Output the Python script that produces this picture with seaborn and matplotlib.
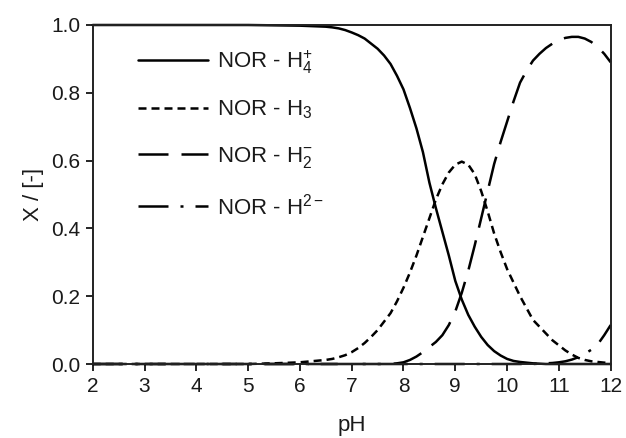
import numpy as np
import pandas as pd
import seaborn as sns
import matplotlib
matplotlib.use("Agg")
import matplotlib.pyplot as plt
from matplotlib.lines import Line2D

# ---- data ----
ph = [2.0, 2.5, 3.0, 3.5, 4.0, 4.5, 5.0, 5.5, 6.0,
      6.5, 6.625, 6.75, 6.875, 7.0, 7.125, 7.25, 7.375, 7.5, 7.625,
      7.75, 7.875, 8.0, 8.125, 8.25, 8.375, 8.5, 8.625, 8.75, 8.875,
      9.0, 9.125, 9.25, 9.375, 9.5, 9.625, 9.75, 9.875, 10.0, 10.125,
      10.25, 10.375, 10.5, 10.625, 10.75, 10.875, 11.0, 11.125, 11.25, 11.375,
      11.5, 11.625, 11.75, 11.875, 12.0]

h4 = [1.0, 1.0, 1.0, 1.0, 1.0, 1.0, 1.0, 0.999, 0.998,
      0.995, 0.993, 0.99, 0.985, 0.978, 0.97, 0.96, 0.945, 0.93, 0.91,
      0.885, 0.85, 0.81, 0.755, 0.695, 0.625, 0.535, 0.46, 0.39, 0.32,
      0.245, 0.19, 0.145, 0.11, 0.08, 0.056, 0.038, 0.025, 0.015, 0.009,
      0.006, 0.004, 0.002, 0.001, 0.0, 0.0, 0.0, 0.0, 0.0, 0.0,
      0.0, 0.0, 0.0, 0.0, 0.0]

h3 = [0.0, 0.0, 0.0, 0.0, 0.0, 0.0, 0.0, 0.002, 0.005,
      0.012, 0.015, 0.02, 0.026, 0.035, 0.047, 0.062, 0.08, 0.10, 0.125,
      0.15, 0.185, 0.225, 0.27, 0.32, 0.375, 0.43, 0.485, 0.53, 0.565,
      0.588, 0.597, 0.588, 0.56, 0.51, 0.45, 0.385, 0.33, 0.28, 0.24,
      0.20, 0.165, 0.13, 0.11, 0.09, 0.07, 0.055, 0.04, 0.028, 0.018,
      0.012, 0.008, 0.006, 0.004, 0.003]

h2 = [0.0, 0.0, 0.0, 0.0, 0.0, 0.0, 0.0, 0.0, 0.0,
      0.0, 0.0, 0.0, 0.0, 0.0, 0.0, 0.0, 0.0, 0.0, 0.0,
      0.0, 0.002, 0.005, 0.012, 0.022, 0.035, 0.05, 0.065, 0.085, 0.115,
      0.155, 0.21, 0.275, 0.35, 0.43, 0.51, 0.59, 0.655, 0.715, 0.775,
      0.83, 0.865, 0.895, 0.915, 0.932, 0.945, 0.955, 0.962, 0.965, 0.965,
      0.96, 0.95, 0.935, 0.915, 0.89]

h1 = [0.0, 0.0, 0.0, 0.0, 0.0, 0.0, 0.0, 0.0, 0.0,
      0.0, 0.0, 0.0, 0.0, 0.0, 0.0, 0.0, 0.0, 0.0, 0.0,
      0.0, 0.0, 0.0, 0.0, 0.0, 0.0, 0.0, 0.0, 0.0, 0.0,
      0.0, 0.0, 0.0, 0.0, 0.0, 0.0, 0.0, 0.0, 0.0, 0.0,
      0.0, 0.0, 0.0, 0.001, 0.002, 0.003, 0.005, 0.008, 0.013, 0.02,
      0.03, 0.042, 0.058, 0.085, 0.115]

species = [r"NOR - H$_4^{+}$", r"NOR - H$_3$", r"NOR - H$_2^{-}$", r"NOR - H$^{2-}$"]
xticks = [2, 3, 4, 5, 6, 7, 8, 9, 10, 11, 12]
yticks = [0.0, 0.2, 0.4, 0.6, 0.8, 1.0]

df = pd.concat([
    pd.DataFrame({"pH": ph, "X": vals, "species": name})
    for name, vals in zip(species, [h4, h3, h2, h1])
], ignore_index=True)

# ---- style ----
sns.set_style("white")
plt.rcParams["font.family"] = ["Liberation Sans", "DejaVu Sans"]
plt.rcParams["mathtext.fontset"] = "custom"
plt.rcParams["mathtext.rm"] = "Liberation Sans"
plt.rcParams["mathtext.it"] = "Liberation Sans:italic"
plt.rcParams["mathtext.bf"] = "Liberation Sans:bold"

fig = plt.figure(figsize=(6.26, 4.38), dpi=100)
ax = fig.add_axes([92.7 / 626, 1 - 364 / 438, (610.7 - 92.7) / 626, (364 - 25) / 438])

LW = 1.8
dash_map = {
    species[0]: "",
    species[1]: (3.2, 2.0),
    species[2]: (12.0, 5.2),
    species[3]: (12.0, 4.8, 1.2, 4.8),
}
sns.lineplot(data=df, x="pH", y="X", style="species", style_order=species,
             dashes=dash_map, color="black", linewidth=LW, legend=False,
             ax=ax, sort=False)
for ln in ax.lines:
    ln.set_clip_on(False)

ax.set_xlim(2, 12)
ax.set_ylim(0, 1.0)
ax.set_xticks(xticks)
ax.set_yticks(yticks)
ax.set_xticklabels([str(t) for t in xticks])
ax.set_yticklabels([f"{t:.1f}" for t in yticks])

txtcol = "#1a1a1a"
ax.tick_params(axis="both", direction="out", length=5, width=1.2,
               labelsize=15, colors="black", labelcolor=txtcol,
               bottom=True, left=True, top=False, right=False, pad=4)
for sp in ax.spines.values():
    sp.set_color("#222222")
    sp.set_linewidth(1.4)

ax.set_xlabel("pH", fontsize=16, color=txtcol, labelpad=14)
ax.set_ylabel("X / [-]", fontsize=16, color=txtcol, labelpad=5)

handles = [Line2D([], [], color="black", linewidth=LW, linestyle="-")]
for name in species[1:]:
    h = Line2D([], [], color="black", linewidth=LW)
    h.set_dashes(dash_map[name])
    handles.append(h)
leg = ax.legend(handles, species, loc="upper left",
                bbox_to_anchor=((138 - 92.7) / 518, (364 - 48) / 339),
                frameon=False, fontsize=16, handlelength=3.15,
                handletextpad=0.4, labelspacing=1.05, borderpad=0,
                borderaxespad=0)
for t in leg.get_texts():
    t.set_color(txtcol)

fig.savefig("out.png", dpi=100)
